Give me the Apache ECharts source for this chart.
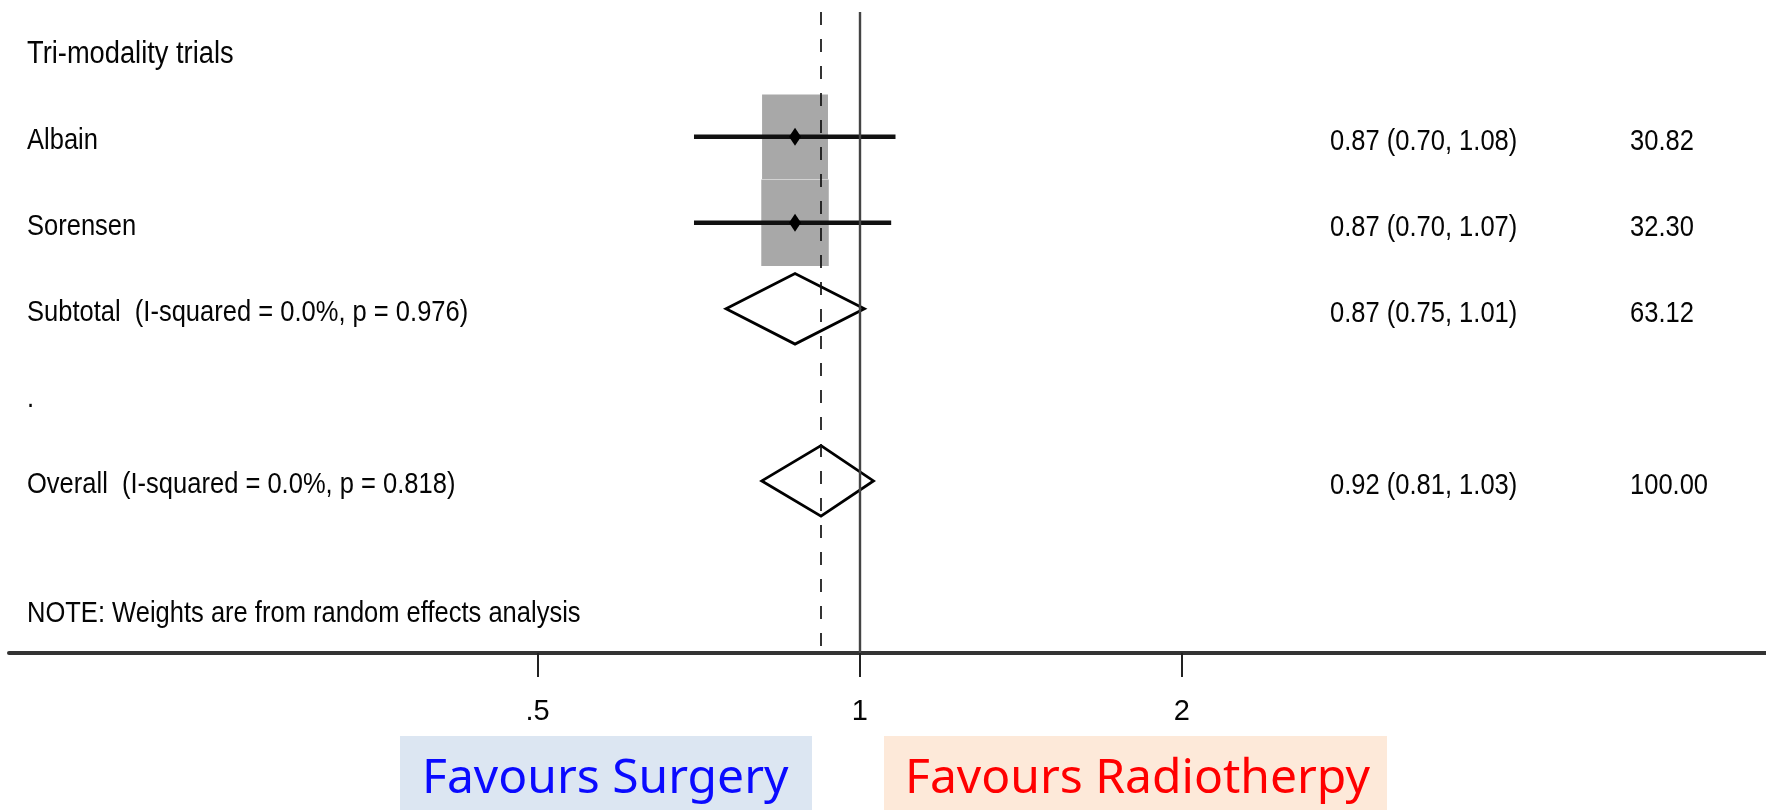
<!DOCTYPE html>
<html>
<head>
<meta charset="utf-8">
<script src="https://cdn.jsdelivr.net/npm/echarts@6/dist/echarts.min.js"></script>
<style>html,body{margin:0;padding:0;background:#fff;}#chart{width:1766px;height:810px;}</style>
</head>
<body>
<div id="chart"></div>
<script>
// ---- data ----
const rowLabels = ['Tri-modality trials', 'Albain', 'Sorensen', 'Subtotal  (I-squared = 0.0%, p = 0.976)', '.', 'Overall  (I-squared = 0.0%, p = 0.818)', 'NOTE: Weights are from random effects analysis'];
const rowPos = [0, 1, 2, 3, 4, 5, 6.5];

const studyRow = [1, 2];
const studyEst = [0.87, 0.87];
const studyLo = [0.70, 0.70];
const studyHi = [1.08, 1.07];
const studyWeight = [30.82, 32.30];

const pooledRow = [3, 5];
const pooledEst = [0.87, 0.92];
const pooledLo = [0.75, 0.81];
const pooledHi = [1.01, 1.03];
const pooledWeight = [63.12, 100.00];

const xTicks = [0.5, 1, 2];
const xTickLabels = ['.5', '1', '2'];
const nullValue = 1;
const overallEst = pooledEst[1];

// ---- layout / style ----
const FONT = "'Liberation Sans', Arial, Helvetica, sans-serif";
const TXT = '#050505';
const FS = 29, SX = 0.88;
const LABEL_X = 27, EST_X = 1330, WT_X = 1630;
const X_MIN = 0.1603, X_MAX = 7.03;

function txt(x, y, s, size) {
  return {
    type: 'text', x: x, y: y, scaleX: SX,
    style: { x: 0, y: 0, text: s, fill: TXT, font: (size || FS) + 'px ' + FONT, textAlign: 'left', textVerticalAlign: 'middle' }
  };
}
function fmt(e, l, h) { return e.toFixed(2) + ' (' + l.toFixed(2) + ', ' + h.toFixed(2) + ')'; }

const studyData = studyEst.map((e, i) => [e, studyLo[i], studyHi[i], studyWeight[i], studyRow[i]]);
const pooledData = pooledEst.map((e, i) => [e, pooledLo[i], pooledHi[i], pooledWeight[i], pooledRow[i]]);
const labelData = rowPos.map((p, i) => [nullValue, p, i]);

const chart = echarts.init(document.getElementById('chart'), null, { renderer: 'canvas' });
chart.setOption({
  animation: false,
  backgroundColor: '#ffffff',
  grid: { left: 9, right: 0, top: 12, bottom: 157, containLabel: false },
  xAxis: {
    type: 'log', logBase: 2, min: X_MIN, max: X_MAX, position: 'bottom',
    axisLine: { show: true, onZero: false, lineStyle: { color: '#333', width: 4 } },
    axisTick: { show: true, customValues: xTicks, length: 24, inside: false, lineStyle: { color: '#222', width: 2 } },
    axisLabel: {
      show: true, customValues: xTicks, margin: 44, color: TXT, fontSize: FS, fontFamily: FONT,
      formatter: function (v) {
        for (let i = 0; i < xTicks.length; i++) if (Math.abs(v - xTicks[i]) < 1e-6) return xTickLabels[i];
        return '';
      }
    },
    splitLine: { show: false }
  },
  yAxis: { type: 'value', inverse: true, min: -0.45, max: 7.0, show: false, splitLine: { show: false } },
  series: [
    {
      type: 'line', data: [], z: 1, silent: true,
      markLine: {
        silent: true, symbol: ['none', 'none'], label: { show: false },
        data: [
          { xAxis: nullValue, lineStyle: { color: '#444', width: 2.4, type: 'solid' } },
          { xAxis: overallEst, lineStyle: { color: '#111', width: 1.7, type: [13, 14] } }
        ]
      }
    },
    {
      type: 'custom', z: 3, data: studyData,
      encode: { x: [0, 1, 2], y: 4 },
      renderItem: function (params, api) {
        const row = api.value(4);
        const c = api.coord([api.value(0), row]);
        const lo = api.coord([api.value(1), row]);
        const hi = api.coord([api.value(2), row]);
        const rowH = api.size([0, 1])[1];
        const s = Math.sqrt(api.value(3));
        const bw = s * 0.138 * rowH, bh = s * 0.175 * rowH;
        return {
          type: 'group', children: [
            { type: 'rect', shape: { x: c[0] - bw / 2, y: c[1] - bh / 2 - 0.5, width: bw, height: bh + 1 }, style: { fill: '#a8a8a8' } },
            { type: 'line', shape: { x1: lo[0], y1: lo[1], x2: hi[0], y2: hi[1] }, style: { stroke: '#111', lineWidth: 4.5 } },
            { type: 'polygon', shape: { points: [[c[0] - 6, c[1]], [c[0], c[1] - 9], [c[0] + 6, c[1]], [c[0], c[1] + 9]] }, style: { fill: '#000' } }
          ]
        };
      }
    },
    {
      type: 'custom', z: 4, data: pooledData,
      encode: { x: [0, 1, 2], y: 4 },
      renderItem: function (params, api) {
        const row = api.value(4);
        const c = api.coord([api.value(0), row]);
        const lo = api.coord([api.value(1), row]);
        const hi = api.coord([api.value(2), row]);
        const h = 0.41 * api.size([0, 1])[1];
        return {
          type: 'polygon',
          shape: { points: [[lo[0], c[1]], [c[0], c[1] - h], [hi[0], c[1]], [c[0], c[1] + h]] },
          style: { fill: 'none', stroke: '#000', lineWidth: 2.8, lineJoin: 'miter' }
        };
      }
    },
    {
      type: 'custom', z: 5, data: labelData, silent: true,
      encode: { x: 0, y: 1 },
      renderItem: function (params, api) {
        const i = api.value(2);
        const y = api.coord([api.value(0), api.value(1)])[1] + 4;
        return txt(LABEL_X, y, rowLabels[i], i === 0 ? 31 : FS);
      }
    },
    {
      type: 'custom', z: 5, silent: true,
      data: studyData.concat(pooledData),
      encode: { x: 0, y: 4 },
      renderItem: function (params, api) {
        const y = api.coord([api.value(0), api.value(4)])[1] + 5;
        return {
          type: 'group', children: [
            txt(EST_X, y, fmt(api.value(0), api.value(1), api.value(2))),
            txt(WT_X, y, api.value(3).toFixed(2))
          ]
        };
      }
    }
  ],
  graphic: [
    { type: 'rect', left: 400, top: 736, shape: { width: 412, height: 74 }, style: { fill: '#dce6f2' } },
    { type: 'text', left: 422, top: 755, style: { text: 'Favours Surgery', fill: '#0a0aff', font: "48px 'Comic Sans MS', 'Noto Sans', sans-serif" } },
    { type: 'rect', left: 884, top: 736, shape: { width: 503, height: 74 }, style: { fill: '#fde9d9' } },
    { type: 'text', left: 905, top: 755, style: { text: 'Favours Radiotherpy', fill: '#ff0000', font: "48px 'Comic Sans MS', 'Noto Sans', sans-serif" } }
  ]
});
</script>
</body>
</html>
